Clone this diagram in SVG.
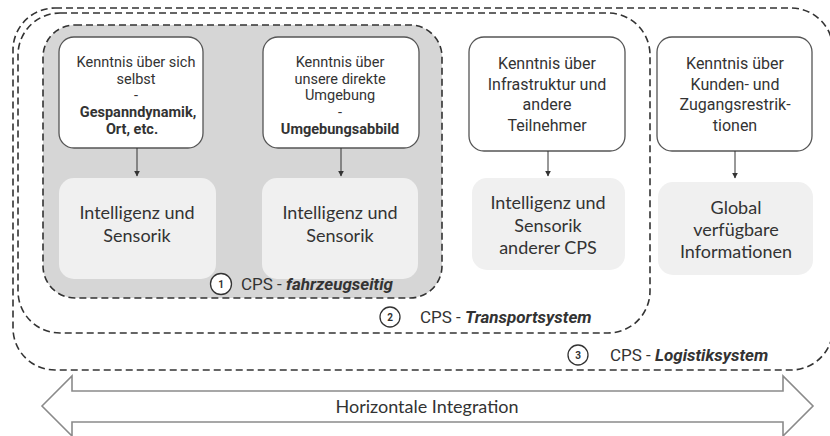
<svg xmlns="http://www.w3.org/2000/svg" width="830" height="436" viewBox="0 0 830 436">
<defs>
<style>
.dash{fill:none;stroke:#333;stroke-width:1.6;stroke-dasharray:7 4}
.kbox{fill:#fff;stroke:#555;stroke-width:1.3}
.lbox{fill:#f0f0f0;stroke:none}
.kt{font-family:Roboto,"Liberation Sans",sans-serif;fill:#333;text-anchor:middle}
.k1{font-size:14.5px}
.k2{font-size:16px}
.b{font-weight:bold}
.lt{font-family:Lato,"Open Sans",sans-serif;font-size:18px;fill:#333;text-anchor:middle}
.lab{font-family:Roboto,"Liberation Sans",sans-serif;font-size:17px;fill:#333}
.num{font-family:Roboto,"Liberation Sans",sans-serif;font-size:10px;font-weight:bold;fill:#333;text-anchor:middle}
.circ{fill:#fff;stroke:#333;stroke-width:1.3}
.conn{stroke:#333;stroke-width:1;fill:none}
</style>
<marker id="ah" viewBox="0 0 10 10" refX="9" refY="5" markerWidth="6" markerHeight="6" orient="auto" markerUnits="userSpaceOnUse">
<path d="M0,0 L10,5 L0,10 z" fill="#333"/>
</marker>
</defs>
<rect width="830" height="436" fill="#fff"/>

<g id="logistiksystem">
<rect class="dash" x="13" y="8" width="820" height="362" rx="42" ry="42"/>
<circle class="circ" cx="578" cy="355" r="10"/>
<text class="num" x="578" y="359">3</text>
<text class="lab" x="610" y="361">CPS - <tspan font-weight="bold" font-style="italic">Logistiksystem</tspan></text>
</g>

<g id="transportsystem">
<rect class="dash" x="18" y="13" width="632" height="320" rx="42" ry="42"/>
<circle class="circ" cx="390" cy="317" r="10"/>
<text class="num" x="390" y="321">2</text>
<text class="lab" x="420" y="323">CPS - <tspan font-weight="bold" font-style="italic">Transportsystem</tspan></text>
</g>

<g id="fahrzeugseitig">
<rect class="dash" x="43" y="25" width="399" height="273" rx="32" ry="32" style="fill:#d6d6d6"/>
</g>

<g id="k1">
<rect class="kbox" x="59" y="37" width="144" height="111" rx="15"/>
<text class="kt k1" x="136" y="67">Kenntnis über sich</text>
<text class="kt k1" x="136" y="84">selbst</text>
<text class="kt k1" x="136" y="100">-</text>
<text class="kt k1 b" x="138" y="117">Gespanndynamik,</text>
<text class="kt k1 b" x="132" y="134">Ort, etc.</text>
</g>

<g id="k2">
<rect class="kbox" x="263" y="37" width="156" height="111" rx="15"/>
<text class="kt k1" x="340" y="67">Kenntnis über</text>
<text class="kt k1" x="340" y="84">unsere direkte</text>
<text class="kt k1" x="340" y="100">Umgebung</text>
<text class="kt k1" x="340" y="117">-</text>
<text class="kt k1 b" x="340" y="134">Umgebungsabbild</text>
</g>

<g id="k3">
<rect class="kbox" x="469" y="37" width="156" height="114" rx="15"/>
<text class="kt k2" x="547" y="69">Kenntnis über</text>
<text class="kt k2" x="547" y="90">Infrastruktur und</text>
<text class="kt k2" x="547" y="110">andere</text>
<text class="kt k2" x="547" y="131">Teilnehmer</text>
</g>

<g id="k4">
<rect class="kbox" x="657" y="37" width="155" height="114" rx="15"/>
<text class="kt k2" x="735" y="69">Kenntnis über</text>
<text class="kt k2" x="735" y="90">Kunden- und</text>
<text class="kt k2" x="735" y="110">Zugangsrestrik-</text>
<text class="kt k2" x="735" y="131">tionen</text>
</g>

<g id="i1">
<rect class="lbox" x="59" y="178" width="157" height="101" rx="15"/>
<text class="lt" x="137" y="219">Intelligenz und</text>
<text class="lt" x="137" y="242">Sensorik</text>
</g>

<g id="i2">
<rect class="lbox" x="262" y="178" width="156" height="101" rx="15"/>
<text class="lt" x="340" y="219">Intelligenz und</text>
<text class="lt" x="340" y="242">Sensorik</text>
</g>

<g id="i3">
<rect class="lbox" x="472" y="178" width="153" height="92" rx="15"/>
<text class="lt" x="548" y="209">Intelligenz und</text>
<text class="lt" x="548" y="232">Sensorik</text>
<text class="lt" x="548" y="254">anderer CPS</text>
</g>

<g id="i4">
<rect class="lbox" x="658" y="182" width="155" height="93" rx="15"/>
<text class="lt" x="736" y="214">Global</text>
<text class="lt" x="736" y="236">verfügbare</text>
<text class="lt" x="736" y="258">Informationen</text>
</g>

<g id="fahrzeugseitig-label">
<circle class="circ" cx="221" cy="284" r="10.5"/>
<text class="num" x="221" y="288">1</text>
<text class="lab" x="241" y="290">CPS - <tspan font-weight="bold" font-style="italic">fahrzeugseitig</tspan></text>
</g>

<g id="connectors">
<line class="conn" x1="137" y1="148" x2="137" y2="176" marker-end="url(#ah)"/>
<line class="conn" x1="341" y1="148" x2="341" y2="176" marker-end="url(#ah)"/>
<line class="conn" x1="548" y1="151" x2="548" y2="176" marker-end="url(#ah)"/>
<line class="conn" x1="735" y1="151" x2="735" y2="178" marker-end="url(#ah)"/>
</g>

<g id="horizontal">
<polygon points="42,406 72,376 72,391 783,391 783,376 813,406 783,436 783,422 72,422 72,436" fill="#fff" stroke="#8a8a8a" stroke-width="1.6" stroke-linejoin="miter"/>
<text class="lt" x="427" y="413">Horizontale Integration</text>
</g>
</svg>
